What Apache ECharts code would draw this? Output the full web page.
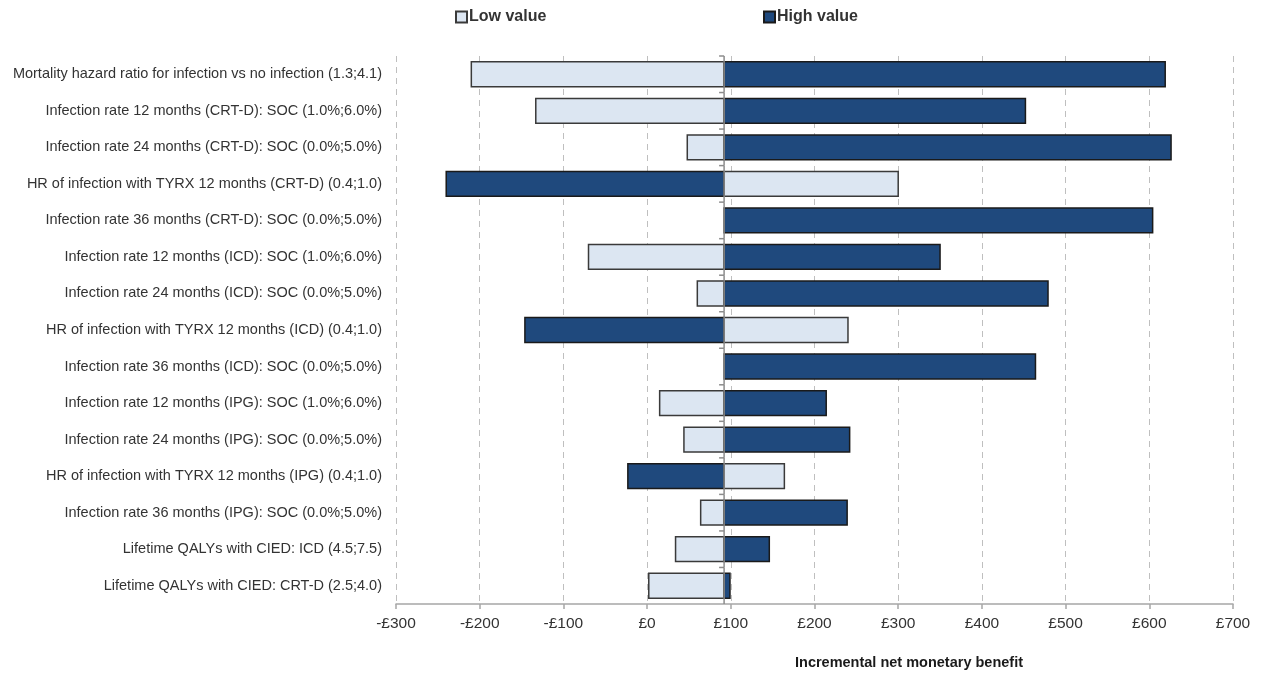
<!DOCTYPE html>
<html>
<head>
<meta charset="utf-8">
<script src="https://cdn.jsdelivr.net/npm/echarts@6/dist/echarts.min.js"></script>
<style>
html,body{margin:0;padding:0;background:#fff;}
#chart{width:1261px;height:674px;}
</style>
</head>
<body>
<div id="chart"></div>
<script>
const categories = [
  'Mortality hazard ratio for infection vs no infection (1.3;4.1)',
  'Infection rate 12 months (CRT-D): SOC (1.0%;6.0%)',
  'Infection rate 24 months (CRT-D): SOC (0.0%;5.0%)',
  'HR of infection with TYRX 12 months (CRT-D) (0.4;1.0)',
  'Infection rate 36 months (CRT-D): SOC (0.0%;5.0%)',
  'Infection rate 12 months (ICD): SOC (1.0%;6.0%)',
  'Infection rate 24 months (ICD): SOC (0.0%;5.0%)',
  'HR of infection with TYRX 12 months (ICD) (0.4;1.0)',
  'Infection rate 36 months (ICD): SOC (0.0%;5.0%)',
  'Infection rate 12 months (IPG): SOC (1.0%;6.0%)',
  'Infection rate 24 months (IPG): SOC (0.0%;5.0%)',
  'HR of infection with TYRX 12 months (IPG) (0.4;1.0)',
  'Infection rate 36 months (IPG): SOC (0.0%;5.0%)',
  'Lifetime QALYs with CIED: ICD (4.5;7.5)',
  'Lifetime QALYs with CIED: CRT-D (2.5;4.0)'
];
const baseValue = 92;
const lowValues  = [-210, -133, 48, 300, 92, -70, 60, 240, 92, 15, 44, 164, 64, 34, 2];
const highValues = [619, 452, 626, -240, 604, 350, 479, -146, 464, 214, 242, -23, 239, 146, 99];
const xTicks = { min: -300, max: 700, step: 100 };

const lowData = lowValues.map((v, i) => [baseValue, v, i]);
const highData = highValues.map((v, i) => [baseValue, v, i]);
const centerData = categories.map((c, i) => [baseValue, baseValue, i]);

function makeRender(fill, stroke) {
  return function (params, api) {
    const cat = api.value(2);
    const s = api.coord([api.value(0), cat]);
    const e = api.coord([api.value(1), cat]);
    const h = api.size([0, 1])[1] * 0.68;
    const w = Math.abs(e[0] - s[0]);
    if (w < 0.5) return null;
    return {
      type: 'rect',
      shape: { x: Math.min(s[0], e[0]), y: s[1] - h / 2, width: w, height: h },
      style: { fill: fill, stroke: stroke, lineWidth: 1.5 }
    };
  };
}

function renderCenter(params, api) {
  const cat = api.value(2);
  const p = api.coord([api.value(0), cat]);
  const band = api.size([0, 1])[1];
  const yTop = p[1] - band / 2;
  const yBot = p[1] + band / 2;
  return {
    type: 'group',
    children: [
      { type: 'line', shape: { x1: p[0], y1: yTop, x2: p[0], y2: yBot },
        style: { stroke: '#8c8c8c', lineWidth: 1.5 } },
      { type: 'line', shape: { x1: p[0] - 5, y1: yTop, x2: p[0], y2: yTop },
        style: { stroke: '#8c8c8c', lineWidth: 1.5 } }
    ]
  };
}

const lowFill = '#dce6f2', lowStroke = '#3a3a3a';
const highFill = '#1f497d', highStroke = '#1a1a1a';
const FONT = 'Liberation Sans, Arial, sans-serif';

const chart = echarts.init(document.getElementById('chart'));
chart.setOption({
  animation: false,
  backgroundColor: '#fff',
  textStyle: { fontFamily: FONT },
  title: {
    text: 'Incremental net monetary benefit',
    left: 795, top: 655,
    padding: 0,
    textStyle: { fontSize: 14.5, fontWeight: 'bold', color: '#1a1a1a', fontFamily: FONT }
  },
  legend: [
    { data: ['Low value'], left: 455, top: 9, padding: 0, icon: 'rect', itemWidth: 11, itemHeight: 11,
      textStyle: { fontSize: 16, fontWeight: 'bold', color: '#333', padding: [0, 0, 0, -3] } },
    { data: ['High value'], left: 763, top: 9, padding: 0, icon: 'rect', itemWidth: 11, itemHeight: 11,
      textStyle: { fontSize: 16, fontWeight: 'bold', color: '#333', padding: [0, 0, 0, -3] } }
  ],
  grid: { left: 396, right: 28, top: 56, bottom: 70, containLabel: false },
  xAxis: {
    type: 'value', min: xTicks.min, max: xTicks.max, interval: xTicks.step,
    axisLine: { show: true, lineStyle: { color: '#a6a6a6', width: 1.5 } },
    axisTick: { show: true, length: 5, lineStyle: { color: '#a6a6a6', width: 1.5 } },
    axisLabel: {
      fontSize: 15.5, color: '#333', margin: 12,
      formatter: v => (v < 0 ? '-£' + Math.abs(v) : '£' + v)
    },
    splitLine: { show: true, lineStyle: { color: '#bfbfbf', type: [6, 5], width: 1 } }
  },
  yAxis: {
    type: 'category', data: categories, inverse: true,
    axisLine: { show: false }, axisTick: { show: false },
    axisLabel: { fontSize: 14.5, color: '#333', margin: 14 },
    splitLine: { show: false }
  },
  series: [
    {
      name: 'Low value', type: 'custom', renderItem: makeRender(lowFill, lowStroke),
      itemStyle: { color: lowFill, borderColor: lowStroke, borderWidth: 1.5 },
      encode: { x: [0, 1], y: 2 }, data: lowData, z: 2
    },
    {
      name: 'High value', type: 'custom', renderItem: makeRender(highFill, highStroke),
      itemStyle: { color: highFill, borderColor: highStroke, borderWidth: 1.5 },
      encode: { x: [0, 1], y: 2 }, data: highData, z: 2
    },
    {
      name: 'center', type: 'custom', renderItem: renderCenter,
      encode: { x: [0, 1], y: 2 }, data: centerData, z: 3, silent: true
    }
  ]
});
</script>
</body>
</html>
